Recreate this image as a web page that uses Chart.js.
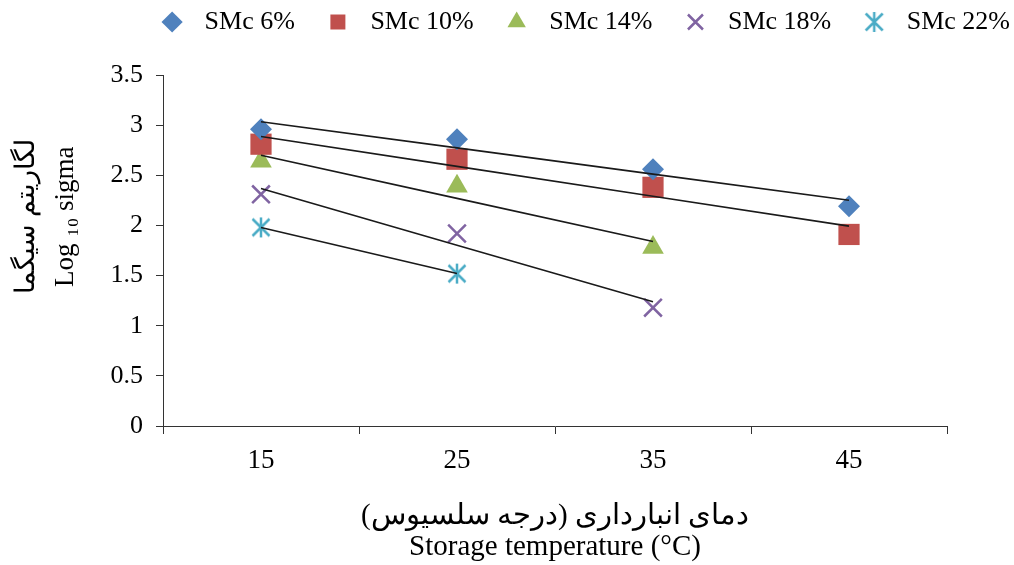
<!DOCTYPE html>
<html><head><meta charset="utf-8">
<script src="https://cdn.jsdelivr.net/npm/chart.js@4.4.1/dist/chart.umd.min.js"></script>
<style>html,body{margin:0;padding:0;background:#fff}#wrap{width:1014px;height:565px;position:relative}</style>
</head><body><div id="wrap"><canvas id="c"></canvas></div>
<script>
// ---- data ----
const categories = ['15', '25', '35', '45'];
const smc6  = [2.96, 2.86, 2.56, 2.19];
const smc10 = [2.81, 2.66, 2.38, 1.91];
const smc14 = [2.64, 2.39, 1.78, null];
const smc18 = [2.31, 1.92, 1.18, null];
const smc22 = [1.98, 1.52, null, null];
const seriesLabels = ['SMc 6%', 'SMc 10%', 'SMc 14%', 'SMc 18%', 'SMc 22%'];
const yTickValues = [0, 0.5, 1, 1.5, 2, 2.5, 3, 3.5];
const xTitle = ['\u200Fدمای انبارداری (درجه سلسیوس)\u200F', 'Storage temperature (°C)'];
const yTitle = ['\u200Fلگاریتم سیگما\u2002\u2002\u2002\u2002\u2002\u200F', '\u2002\u2002\u2002\u2002\u2002Log \u2081\u2080 sigma'];

// ---- styling ----
const seriesColors = ['#4F81BD', '#C0504D', '#9BBB59', '#8064A2', '#4BACC6'];
const SERIF = "'Liberation Serif', 'Times New Roman', 'DejaVu Serif', serif";

function asterisk(color, size, lw) {
  const c = document.createElement('canvas');
  c.width = size; c.height = size;
  const g = c.getContext('2d');
  g.strokeStyle = color; g.lineWidth = lw; g.lineCap = 'butt';
  const m = size / 2, r = size / 2 - 1;
  g.beginPath();
  g.moveTo(m, m - r); g.lineTo(m, m + r);
  const d = r * 0.85;
  g.moveTo(m - d, m - d); g.lineTo(m + d, m + d);
  g.moveTo(m - d, m + d); g.lineTo(m + d, m - d);
  g.stroke();
  return c;
}

const markerStyles = [
  { pointStyle: 'rectRot', pointRadius: 11, borderWidth: 0 },
  { pointStyle: 'rect', pointRadius: 15, borderWidth: 0 },
  { pointStyle: 'triangle', pointRadius: 12.5, borderWidth: 0 },
  { pointStyle: 'crossRot', pointRadius: 12.5, borderWidth: 2.5 },
  { pointStyle: asterisk(seriesColors[4], 22, 2.5), pointRadius: 11, borderWidth: 2 }
];

function trend(values) {
  const pts = values.map((v, i) => [i, v]).filter(p => p[1] !== null);
  const n = pts.length;
  const mx = pts.reduce((s, p) => s + p[0], 0) / n;
  const my = pts.reduce((s, p) => s + p[1], 0) / n;
  let sxy = 0, sxx = 0;
  pts.forEach(p => { sxy += (p[0] - mx) * (p[1] - my); sxx += (p[0] - mx) ** 2; });
  const b = sxy / sxx, a = my - b * mx;
  const first = pts[0][0], last = pts[n - 1][0];
  return values.map((v, i) => (i >= first && i <= last) ? a + b * i : null);
}

const allSeries = [smc6, smc10, smc14, smc18, smc22];
const datasets = [];
allSeries.forEach((vals, k) => {
  datasets.push(Object.assign({
    label: seriesLabels[k],
    data: vals,
    showLine: false,
    backgroundColor: seriesColors[k],
    borderColor: seriesColors[k],
    pointBackgroundColor: seriesColors[k],
    pointBorderColor: seriesColors[k],
    order: 2
  }, markerStyles[k], { pointBorderWidth: markerStyles[k].borderWidth }));
});
allSeries.forEach((vals, k) => {
  datasets.push({
    label: 'trend ' + seriesLabels[k],
    isTrend: true,
    data: trend(vals),
    borderColor: '#1a1a1a',
    borderWidth: 1.6,
    pointRadius: 0,
    fill: false,
    order: 1
  });
});

const axisColor = '#333333';

new Chart(document.getElementById('c'), {
  type: 'line',
  data: { labels: categories, datasets },
  options: {
    responsive: true,
    maintainAspectRatio: false,
    animation: false,
    layout: { padding: { top: 5, left: 0, right: 0, bottom: 0 } },
    plugins: {
      tooltip: { enabled: false },
      legend: {
        position: 'top',
        align: 'end',
        labels: {
          usePointStyle: true,
          boxWidth: 26,
          boxHeight: 15,
          padding: 4,
          color: '#000',
          font: { family: SERIF, size: 26 },
          generateLabels(chart) {
            const items = Chart.defaults.plugins.legend.labels.generateLabels(chart)
              .filter(it => !chart.data.datasets[it.datasetIndex].isTrend);
            items.forEach((it, k) => {
              it.text = ' ' + it.text + (k < items.length - 1 ? '\u2002\u2002' : '');
            });
            return items;
          }
        }
      }
    },
    scales: {
      x: {
        type: 'category',
        offset: true,
        afterFit(s) { s.height = 139; },
        grid: { display: true, offset: true, drawOnChartArea: false, drawTicks: true, tickLength: 8, color: axisColor, lineWidth: 1 },
        border: { display: true, color: axisColor, width: 1 },
        ticks: { color: '#000', font: { family: SERIF, size: 27 }, padding: 11 },
        title: {
          display: true, text: xTitle, color: '#000',
          font: { family: SERIF, size: 29, lineHeight: 1.07 },
          padding: { top: 0, bottom: 2 }
        }
      },
      xTop: {
        type: 'category',
        position: 'top',
        display: true,
        afterFit(s) { s.height = 30; },
        grid: { display: false },
        border: { display: false },
        ticks: { display: false }
      },
      y: {
        min: 0, max: 3.5,
        afterFit(s) { s.width = 163; },
        afterBuildTicks(s) { s.ticks = yTickValues.map(v => ({ value: v })); },
        grid: { display: true, drawOnChartArea: false, drawTicks: true, tickLength: 7, color: axisColor, lineWidth: 1 },
        border: { display: true, color: axisColor, width: 1 },
        ticks: { color: '#000', font: { family: SERIF, size: 26 }, padding: 13, callback: v => String(v) },
        title: {
          display: true, text: yTitle, color: '#000',
          font: { family: SERIF, size: 27, lineHeight: 1.42 },
          padding: { top: 8, bottom: 0 }
        }
      },
      yRight: {
        position: 'right',
        display: true,
        afterFit(s) { s.width = 67; },
        grid: { display: false },
        border: { display: false },
        ticks: { display: false }
      }
    }
  }
});
</script>
</body></html>
